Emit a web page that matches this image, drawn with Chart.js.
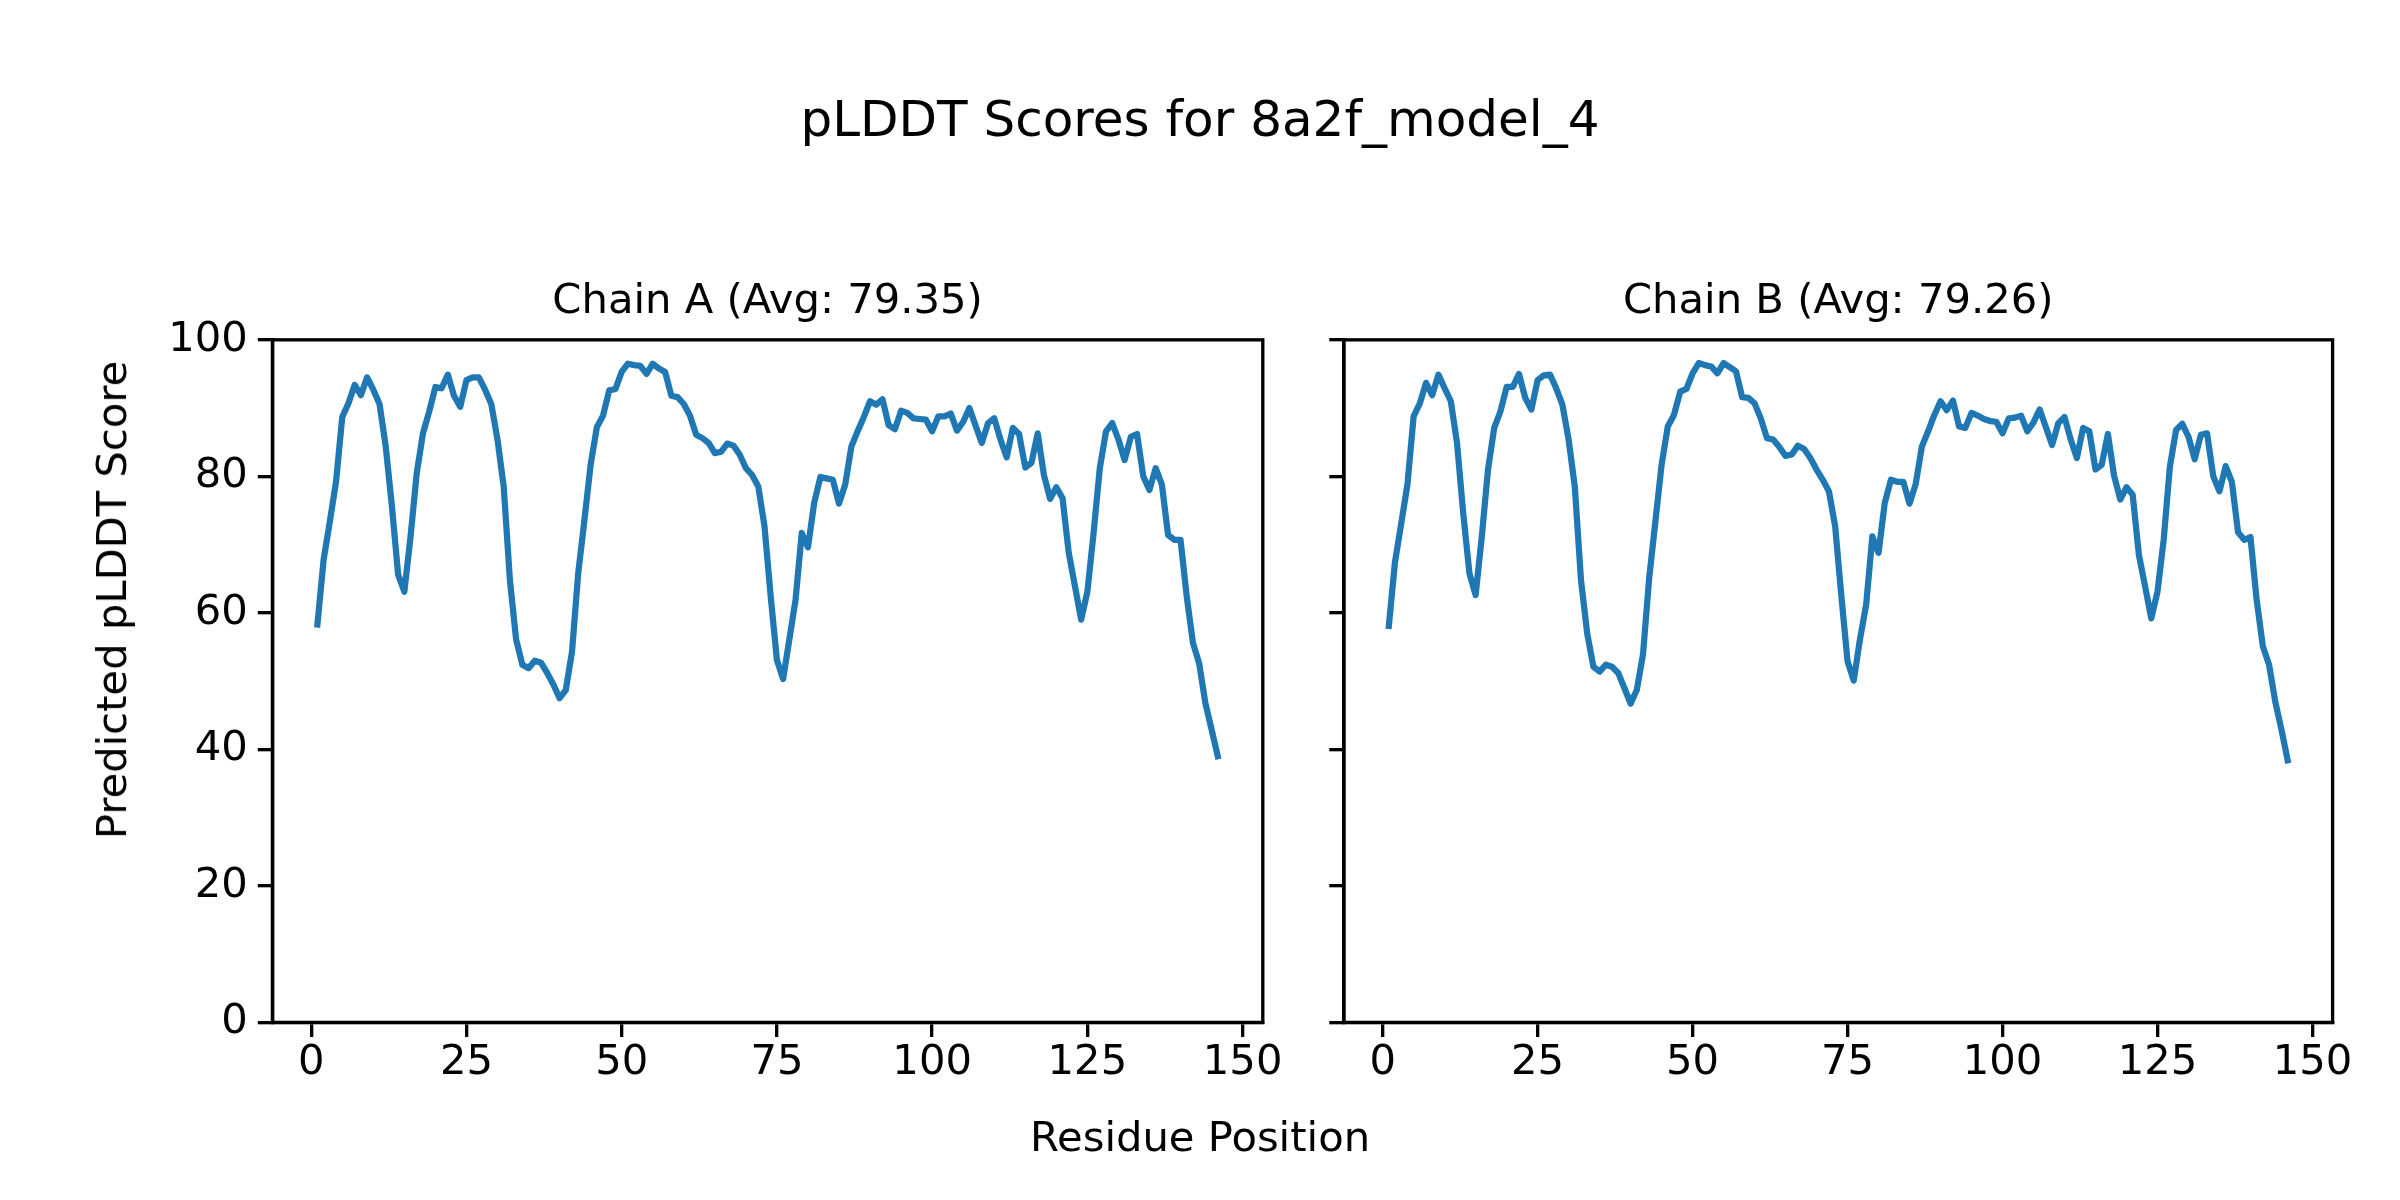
<!DOCTYPE html>
<html>
<head>
<meta charset="utf-8">
<title>pLDDT Scores for 8a2f_model_4</title>
<script src="https://cdn.jsdelivr.net/npm/chart.js@4"></script>
<style>
  body { margin: 0; background: #fff; }
  #fig { position: relative; width: 2400px; height: 1200px; background: #fff; font-family: "DejaVu Sans", sans-serif; color: #000; overflow: hidden; }
  canvas { position: absolute; top: 0; }
  .txt { position: absolute; white-space: nowrap; }
</style>
</head>
<body>
<div id="fig">
  <div class="txt" style="left:0;width:2400px;text-align:center;top:94px;font-size:50px;line-height:50px;">pLDDT Scores for 8a2f_model_4</div>
  <canvas id="chart-a" width="1300" height="1200" style="left:0"></canvas>
  <canvas id="chart-b" width="1100" height="1200" style="left:1300px"></canvas>
  <div class="txt" style="left:0;width:2400px;text-align:center;top:1116px;font-size:41.7px;line-height:42px;">Residue Position</div>
  <div class="txt" style="left:112px;top:600px;font-size:41.7px;line-height:42px;transform:translate(-50%,-50%) rotate(-90deg);">Predicted pLDDT Score</div>
</div>
<script>
// Datos (pLDDT por residuo)
const tituloA = 'Chain A (Avg: 79.35)';
const tituloB = 'Chain B (Avg: 79.26)';

const chainA = [
  58.3, 67.8, 73.4, 79.2, 88.7, 90.7, 93.4, 91.9, 94.5, 92.7,
  90.6, 84.4, 75.6, 65.6, 63.1, 71.2, 80.5, 86.3, 89.5, 93.1,
  92.9, 94.9, 91.8, 90.2, 94.1, 94.5, 94.5, 92.7, 90.6, 85.4,
  78.5, 64.8, 56.1, 52.4, 51.9, 53.0, 52.7, 51.2, 49.5, 47.5,
  48.7, 54.3, 65.8, 73.6, 81.7, 87.2, 88.9, 92.6, 92.8, 95.3,
  96.5, 96.3, 96.2, 95.0, 96.5, 95.8, 95.3, 91.8, 91.6, 90.6,
  88.9, 86.1, 85.6, 84.9, 83.4, 83.6, 84.8, 84.5, 83.2, 81.2,
  80.2, 78.5, 72.7, 62.4, 53.1, 50.3, 56.1, 61.9, 71.7, 69.6,
  76.1, 79.9, 79.7, 79.5, 76.0, 78.8, 84.4, 86.6, 88.7, 91.0,
  90.5, 91.3, 87.5, 86.9, 89.6, 89.3, 88.5, 88.4, 88.3, 86.6,
  88.8, 88.8, 89.2, 86.7, 88.0, 90.0, 87.4, 84.9, 87.8, 88.5,
  85.4, 82.8, 87.1, 86.2, 81.3, 82.0, 86.3, 80.2, 76.7, 78.4,
  76.8, 68.8, 63.9, 59.0, 63.1, 71.7, 81.2, 86.6, 87.8, 85.4,
  82.4, 85.8, 86.2, 80.0, 78.0, 81.2, 78.8, 71.4, 70.7, 70.7,
  62.4, 55.6, 52.6, 46.8, 42.9, 39.0
];

const chainB = [
  58.1, 67.5, 73.1, 78.8, 88.8, 90.7, 93.7, 91.9, 94.9, 92.9,
  91.0, 84.9, 74.6, 65.8, 62.6, 71.2, 81.0, 87.1, 89.5, 93.1,
  93.1, 95.0, 91.5, 89.8, 94.1, 94.8, 94.9, 92.9, 90.5, 85.4,
  78.5, 64.8, 57.0, 52.1, 51.4, 52.4, 52.1, 51.2, 49.0, 46.7,
  48.7, 53.9, 65.1, 73.4, 81.7, 87.3, 89.0, 92.4, 92.8, 95.1,
  96.6, 96.3, 96.1, 95.1, 96.6, 96.0, 95.4, 91.6, 91.5, 90.7,
  88.5, 85.6, 85.4, 84.3, 83.0, 83.2, 84.5, 84.0, 82.7, 81.0,
  79.5, 77.8, 72.7, 62.5, 52.9, 50.1, 56.1, 61.2, 71.2, 68.8,
  76.1, 79.5, 79.2, 79.2, 76.0, 78.9, 84.4, 86.6, 89.0, 91.0,
  89.7, 91.1, 87.3, 87.1, 89.3, 88.9, 88.4, 88.1, 88.0, 86.3,
  88.5, 88.6, 88.9, 86.6, 87.9, 89.8, 87.2, 84.6, 87.8, 88.7,
  85.4, 82.7, 87.1, 86.6, 81.0, 81.7, 86.2, 80.1, 76.6, 78.4,
  77.3, 68.5, 63.9, 59.2, 63.1, 70.7, 81.4, 86.8, 87.7, 85.8,
  82.5, 86.1, 86.3, 80.0, 77.8, 81.5, 79.2, 71.8, 70.7, 71.1,
  61.9, 55.1, 52.4, 47.0, 42.9, 38.4
];

const ticksX = [0, 25, 50, 75, 100, 125, 150];
const ticksY = [0, 20, 40, 60, 80, 100];

// posición del residuo = índice + 1
const residuos = chainA.map((_, i) => i + 1);

const fuente = { family: 'DejaVu Sans', size: 41.7, weight: 'normal' };

// Dibuja el marco completo del área (los cuatro lados, como matplotlib)
const marco = {
  id: 'marco',
  afterDraw(chart) {
    const { ctx, chartArea: a } = chart;
    ctx.save();
    ctx.strokeStyle = '#000';
    ctx.lineWidth = 3.33;
    ctx.strokeRect(a.left, a.top, a.right - a.left, a.bottom - a.top);
    ctx.restore();
  }
};

function crearGrafico(id, titulo, valores, conEtiquetas, anchoEjeY, padDer) {
  const ejeComun = {
    grid: { drawOnChartArea: false, drawTicks: true, tickLength: 14.6, tickWidth: 3.33, tickColor: '#000', color: '#000', lineWidth: 3.33 },
    border: { display: true, color: '#000', width: 3.33 }
  };
  return new Chart(document.getElementById(id), {
    type: 'line',
    data: {
      datasets: [{
        data: valores.map((v, i) => ({ x: residuos[i], y: v })),
        borderColor: '#1f77b4',
        borderWidth: 6.25,
        borderJoinStyle: 'round',
        borderCapStyle: 'square',
        pointRadius: 0,
        tension: 0
      }]
    },
    options: {
      responsive: false,
      animation: false,
      devicePixelRatio: 1,
      layout: { padding: { left: 0, top: 277.5, right: padDer, bottom: 97.6 } },
      plugins: {
        legend: { display: false },
        tooltip: { enabled: false },
        title: {
          display: true,
          text: titulo,
          fullSize: false,
          color: '#000',
          font: fuente,
          padding: { top: 0, bottom: 12.3 }
        }
      },
      scales: {
        x: {
          ...ejeComun,
          type: 'linear',
          min: -6.25,
          max: 153.25,
          afterBuildTicks: s => { s.ticks = ticksX.map(v => ({ value: v })); },
          afterFit: s => { s.height = 80; },
          ticks: { color: '#000', font: fuente, padding: 1, maxRotation: 0, autoSkip: false }
        },
        y: {
          ...ejeComun,
          min: 0,
          max: 100,
          afterBuildTicks: s => { s.ticks = ticksY.map(v => ({ value: v })); },
          afterFit: s => { s.width = anchoEjeY; },
          ticks: {
            color: '#000', font: fuente, padding: 10, autoSkip: false,
            callback: v => conEtiquetas ? String(v) : ''
          }
        }
      }
    },
    plugins: [marco]
  });
}

crearGrafico('chart-a', tituloA, chainA, true, 272.4, 37.2);
crearGrafico('chart-b', tituloB, chainB, false, 43.9, 67.4);
</script>
</body>
</html>
